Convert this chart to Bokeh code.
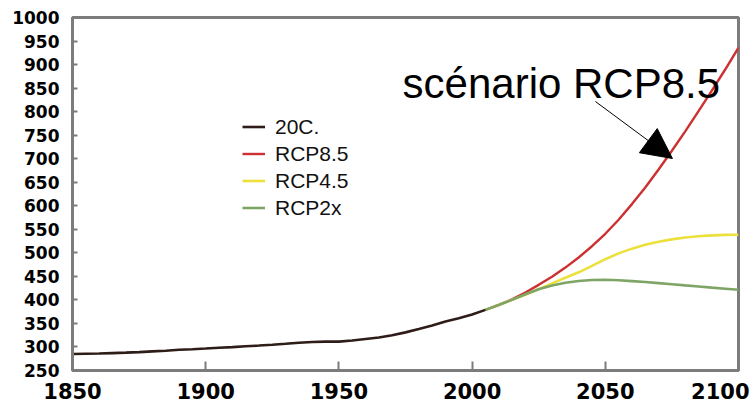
from bokeh.plotting import figure
from bokeh.models import Range1d, SingleIntervalTicker, Legend, LegendItem, Label, Arrow, NormalHead
from bokeh.embed import file_html
from bokeh.resources import INLINE

# ---- data (CO2 ppm) ----
years_20c = [1850, 1855, 1860, 1865, 1870, 1875, 1880, 1885, 1890, 1895,
             1900, 1905, 1910, 1915, 1920, 1925, 1930, 1935, 1940, 1945,
             1950, 1955, 1960, 1965, 1970, 1975, 1980, 1985, 1990, 1995,
             2000, 2005]
co2_20c = [285.2, 285.7, 286.1, 287.0, 287.9, 289.0, 290.7, 292.0, 294.0, 295.2,
           296.6, 298.2, 299.7, 301.4, 303.0, 304.8, 306.8, 308.9, 310.7, 311.3,
           311.3, 313.7, 316.9, 320.0, 325.0, 331.0, 338.0, 345.5, 353.9, 360.8,
           369.1, 378.8]

years_rcp = [2005, 2010, 2015, 2020, 2025, 2030, 2035, 2040, 2045, 2050,
             2055, 2060, 2065, 2070, 2075, 2080, 2085, 2090, 2095, 2100]
co2_rcp85 = [378.8, 389.3, 401.1, 415.8, 432.0, 449.3, 468.6, 490.1, 514.0, 540.5,
             570.2, 603.5, 639.0, 677.1, 717.0, 758.2, 801.0, 844.8, 889.5, 935.9]
co2_rcp45 = [378.8, 389.1, 400.1, 411.1, 422.9, 435.0, 447.0, 458.6, 472.4, 486.5,
             498.9, 508.9, 517.0, 523.5, 528.6, 532.6, 535.3, 537.1, 538.1, 538.4]
co2_rcp2x = [378.8, 389.3, 400.1, 412.1, 422.8, 430.8, 436.5, 440.2, 442.3, 442.7,
             441.7, 439.9, 437.9, 435.6, 433.3, 430.8, 428.4, 426.0, 423.8, 421.4]

series_names = ["20C.", "RCP8.5", "RCP4.5", "RCP2x"]
annotation_text = "scénario RCP8.5"
annotation_pos = (1973.9, 859.0)
arrow_start = (2046.3, 821.5)
arrow_end = (2075.2, 700.4)

AXIS_COLOR = "#7c7c7c"

p = figure(width=749, height=403, output_backend="svg", toolbar_location=None,
           x_range=Range1d(1850, 2100), y_range=Range1d(250, 1000),
           min_border_left=72, min_border_right=11, min_border_top=17, min_border_bottom=33)
p.background_fill_color = "white"
p.border_fill_color = "white"
p.outline_line_color = AXIS_COLOR
p.outline_line_width = 3
p.xgrid.visible = False
p.ygrid.visible = False

p.xaxis.ticker = SingleIntervalTicker(interval=50)
p.yaxis.ticker = SingleIntervalTicker(interval=50)
for ax in (p.xaxis[0], p.yaxis[0]):
    ax.axis_line_color = AXIS_COLOR
    ax.axis_line_width = 3
    ax.major_tick_line_color = AXIS_COLOR
    ax.major_tick_line_width = 2
    ax.major_tick_out = 0
    ax.minor_tick_line_color = None
    ax.major_label_text_color = "black"
    ax.major_label_text_font = "DejaVu Sans"
    ax.major_label_text_font_style = "bold"
p.xaxis.major_tick_in = 9
p.yaxis.major_tick_in = 5
p.xaxis.major_label_text_font_size = "21px"
p.yaxis.major_label_text_font_size = "17px"
p.xaxis.major_label_standoff = 8
p.yaxis.major_label_standoff = 9

r20 = p.line(years_20c, co2_20c, line_color="#2e1c18", line_width=2.6)
r85 = p.line(years_rcp, co2_rcp85, line_color="#cc3030", line_width=2.4)
r45 = p.line(years_rcp, co2_rcp45, line_color="#ece03c", line_width=2.6)
r2x = p.line(years_rcp, co2_rcp2x, line_color="#7fa566", line_width=2.6)
# redraw historical on top
p.renderers.remove(r20)
p.renderers.append(r20)

legend = Legend(items=[LegendItem(label=n, renderers=[r]) for n, r in
                       zip(series_names, [r20, r85, r45, r2x])],
                location=(170, 149))
legend.border_line_alpha = 0
legend.background_fill_alpha = 0
legend.padding = 0
legend.margin = 0
legend.spacing = 0
legend.glyph_width = 23
legend.glyph_height = 27
legend.label_height = 27
legend.label_standoff = 10
legend.label_text_font = "Liberation Sans"
legend.label_text_font_size = "21px"
legend.label_text_color = "#111111"
p.add_layout(legend)

p.add_layout(Label(x=annotation_pos[0], y=annotation_pos[1], text=annotation_text,
                   text_font="Liberation Sans", text_font_size="42px",
                   text_color="black", text_baseline="alphabetic"))
p.add_layout(Arrow(x_start=arrow_start[0], y_start=arrow_start[1],
                   x_end=arrow_end[0], y_end=arrow_end[1],
                   line_color="black", line_width=1,
                   end=NormalHead(size=30, fill_color="black", line_color="black")))

open("out.html", "w").write(file_html(p, INLINE))
